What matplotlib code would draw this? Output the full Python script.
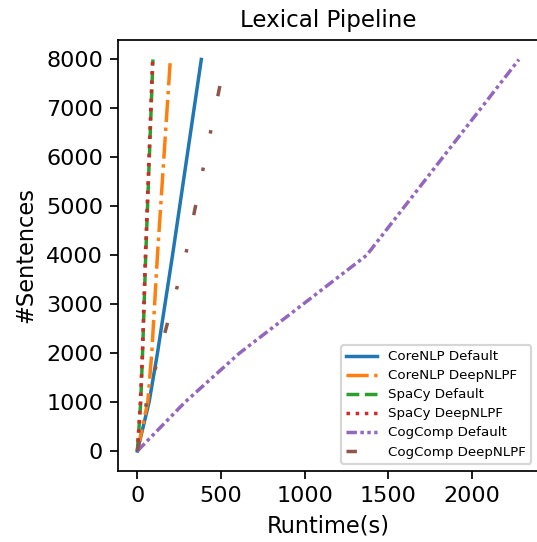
import matplotlib
matplotlib.use("Agg")
import matplotlib.pyplot as plt

# Data
sentences = [0, 1000, 2000, 4000, 8000]
corenlp_default = [0, 70, 120, 210, 382]
corenlp_deepnlpf = [0, 62, 86, 120, 197]
spacy_default = [0, 20, 31, 50, 93]
spacy_deepnlpf = [0, 18, 30, 48, 91]
cogcomp_default = [0, 285, 610, 1370, 2280]
cogcomp_deepnlpf = [0, 55, 132, 288, 525]

labels = ["CoreNLP Default", "CoreNLP DeepNLPF", "SpaCy Default",
          "SpaCy DeepNLPF", "CogComp Default", "CogComp DeepNLPF"]

DPI = 156
fig = plt.figure(figsize=(537 / DPI, 542 / DPI), dpi=DPI)
ax = fig.add_axes([118.3 / 537, 1 - 470.6 / 542, (538.0 - 118.3) / 537, (470.6 - 39.9) / 542])

lw = 1.6
ax.plot(corenlp_default, sentences, color="C0", linestyle="-", lw=lw, label=labels[0])
ax.plot(corenlp_deepnlpf, sentences, color="C1", linestyle="-.", lw=lw, label=labels[1])
ax.plot(spacy_default, sentences, color="C2", linestyle="--", lw=lw, label=labels[2])
ax.plot(spacy_deepnlpf, sentences, color="C3", linestyle=":", lw=lw, label=labels[3])
ax.plot(cogcomp_default, sentences, color="C4", linestyle=(0, (3, 1, 1, 1, 1, 1)), lw=lw, label=labels[4])
ax.plot(cogcomp_deepnlpf, sentences, color="C5", linestyle=(0, (3, 10, 1, 10, 1, 10)), lw=lw, label=labels[5])

ax.set_xticks([0, 500, 1000, 1500, 2000])
ax.set_yticks([0, 1000, 2000, 3000, 4000, 5000, 6000, 7000, 8000])
ax.set_xlabel("Runtime(s)", fontsize=10.4)
ax.set_ylabel("#Sentences", fontsize=10.4)
ax.set_title("Lexical Pipeline", fontsize=10.6)
ax.tick_params(labelsize=10.3)
ax.legend(loc="lower right", fontsize=6.2, handlelength=2.3, labelspacing=0.45)

fig.savefig("out.png", dpi=DPI)
